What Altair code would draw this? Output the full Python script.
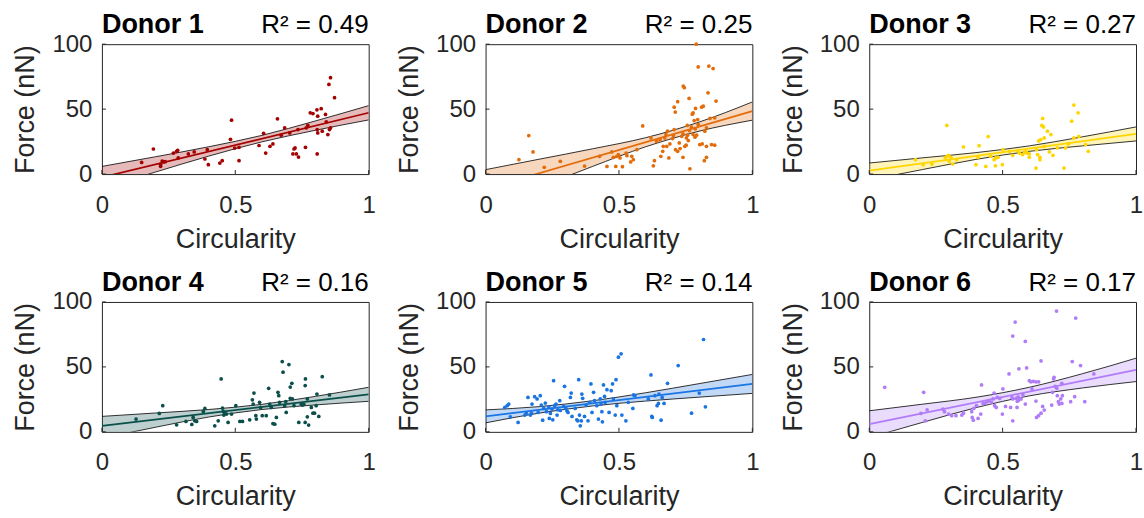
import altair as alt
import pandas as pd

FONT = "Liberation Sans"

donors = ["Donor 1", "Donor 2", "Donor 3", "Donor 4", "Donor 5", "Donor 6"]
r2_values = [0.49, 0.25, 0.27, 0.16, 0.14, 0.17]
colors = ["#A30000", "#E36C0A", "#FFD500", "#0B4F4B", "#1A74E2", "#B07CF8"]

x_ticks = [0, 0.5, 1]
y_ticks = [0, 50, 100]

# ---- scatter data (circularity, force) ----
d1_circ = [0.149, 0.193, 0.22, 0.22, 0.226, 0.232, 0.237, 0.268, 0.28, 0.284, 0.286, 0.324, 0.346, 0.386, 0.395,
           0.399, 0.442, 0.451, 0.482, 0.486, 0.498, 0.514, 0.514, 0.589, 0.606, 0.614, 0.63, 0.641, 0.658, 0.672,
           0.685, 0.704, 0.716, 0.72, 0.724, 0.729, 0.737, 0.735, 0.763, 0.766, 0.772, 0.781, 0.791, 0.807, 0.806,
           0.822, 0.809, 0.807, 0.809, 0.826, 0.838, 0.841, 0.847, 0.851, 0.857, 0.853, 0.857, 0.872]
d1_force = [9.0, 19.3, 6.0, 7.5, 10.0, 9.3, 9.5, 16.2, 17.5, 18.3, 12.4, 15.5, 17.0, 11.6, 18.8,
            7.2, 8.5, 10.3, 26.8, 41.5, 20.0, 20.6, 10.3, 22.0, 31.4, 16.2, 21.4, 23.2, 42.5, 29.9,
            35.6, 31.7, 15.5, 19.3, 20.1, 15.5, 13.1, 34.3, 20.6, 35.6, 37.4, 47.2, 46.6, 15.5, 49.5,
            50.3, 44.6, 34.3, 31.7, 33.0, 45.9, 40.2, 30.4, 69.0, 74.2, 34.3, 35.6, 58.8]

d2_circ = [0.125, 0.162, 0.178, 0.22, 0.28, 0.371, 0.427, 0.455, 0.488, 0.513, 0.473, 0.479, 0.492, 0.498, 0.504,
           0.527, 0.53, 0.544, 0.548, 0.554, 0.567, 0.589, 0.62, 0.629, 0.633, 0.641, 0.654, 0.657, 0.664, 0.666,
           0.672, 0.676, 0.682, 0.687, 0.691, 0.701, 0.704, 0.707, 0.711, 0.72, 0.712, 0.72, 0.729, 0.726, 0.735,
           0.74, 0.741, 0.745, 0.747, 0.752, 0.756, 0.753, 0.757, 0.76, 0.766, 0.763, 0.772, 0.775, 0.778, 0.787,
           0.778, 0.785, 0.791, 0.782, 0.79, 0.795, 0.797, 0.797, 0.803, 0.81, 0.816, 0.812, 0.828, 0.82, 0.822,
           0.828, 0.828, 0.834, 0.837, 0.841, 0.847, 0.853, 0.859, 0.859, 0.864, 0.74, 0.764, 0.786, 0.707, 0.679]
d2_force = [11.1, 29.6, 17.0, 5.2, 9.8, 6.2, 13.7, 5.9, 5.9, 5.7, 17.0, 12.9, 13.7, 14.9, 12.4,
            16.2, 14.2, 9.3, 13.7, 11.1, 18.8, 37.1, 27.8, 6.4, 10.3, 25.3, 26.5, 13.7, 17.5, 21.4,
            27.8, 30.4, 33.0, 12.4, 23.2, 27.3, 29.6, 51.5, 47.7, 55.7, 18.8, 17.5, 19.6, 24.0, 29.1,
            12.9, 67.8, 66.5, 21.4, 22.2, 37.4, 27.8, 29.9, 25.8, 4.1, 58.2, 36.1, 46.1, 47.2, 50.5,
            30.4, 28.4, 29.9, 41.2, 100.0, 42.0, 38.1, 82.5, 22.7, 51.5, 52.3, 23.2, 21.4, 10.3, 33.0,
            35.6, 12.9, 62.6, 83.2, 42.8, 22.7, 81.2, 43.3, 22.2, 56.2, 31.0, 33.5, 34.8, 34.3, 21.4]

d3_circ = [0.173, 0.202, 0.235, 0.285, 0.291, 0.297, 0.3, 0.306, 0.291, 0.313, 0.328, 0.353, 0.4, 0.408, 0.412,
           0.437, 0.446, 0.455, 0.468, 0.474, 0.483, 0.473, 0.499, 0.501, 0.526, 0.538, 0.557, 0.563, 0.575, 0.582,
           0.588, 0.594, 0.6, 0.6, 0.625, 0.627, 0.631, 0.635, 0.64, 0.64, 0.643, 0.65, 0.647, 0.653, 0.656,
           0.656, 0.668, 0.675, 0.681, 0.689, 0.705, 0.73, 0.736, 0.746, 0.759, 0.767, 0.783, 0.767, 0.786, 0.811,
           0.821]
d3_force = [11.1, 7.2, 7.7, 12.4, 13.7, 14.4, 9.8, 12.9, 37.4, 7.7, 11.1, 20.9, 7.2, 12.9, 21.9,
            5.9, 28.9, 13.7, 11.1, 12.4, 12.9, 6.4, 7.2, 18.8, 17.5, 14.4, 18.0, 16.2, 15.0, 16.5,
            17.5, 16.0, 15.5, 12.9, 4.6, 18.8, 15.0, 25.5, 12.9, 11.1, 26.5, 42.8, 37.4, 36.3, 27.8,
            21.4, 33.0, 17.0, 30.4, 14.4, 20.1, 4.6, 20.1, 23.2, 40.7, 53.1, 47.2, 27.8, 29.1, 22.7,
            17.5]

d4_circ = [0.128, 0.215, 0.228, 0.28, 0.315, 0.337, 0.342, 0.348, 0.355, 0.38, 0.386, 0.423, 0.436, 0.447, 0.452,
           0.455, 0.457, 0.461, 0.467, 0.473, 0.486, 0.502, 0.517, 0.527, 0.554, 0.564, 0.567, 0.57, 0.577, 0.579,
           0.591, 0.595, 0.601, 0.616, 0.625, 0.629, 0.635, 0.641, 0.648, 0.654, 0.66, 0.663, 0.666, 0.676, 0.679,
           0.685, 0.689, 0.691, 0.701, 0.706, 0.712, 0.706, 0.714, 0.72, 0.738, 0.747, 0.751, 0.757, 0.762, 0.763,
           0.762, 0.77, 0.775, 0.77, 0.785, 0.791, 0.797, 0.803, 0.806, 0.813, 0.826, 0.853]
d4_force = [9.8, 14.2, 20.1, 5.4, 8.0, 5.7, 11.1, 8.5, 8.0, 15.7, 18.0, 4.6, 8.5, 40.7, 18.3,
            15.7, 12.9, 14.4, 13.7, 7.2, 13.7, 20.1, 8.0, 8.0, 9.3, 24.7, 21.4, 29.9, 12.4, 9.8,
            22.7, 18.8, 12.4, 12.4, 33.5, 21.4, 18.8, 6.4, 5.9, 11.1, 30.4, 27.8, 22.7, 54.1, 45.9,
            20.1, 23.2, 14.9, 51.8, 34.5, 37.4, 25.8, 25.3, 20.1, 7.2, 21.4, 20.6, 21.1, 35.6, 40.7,
            7.2, 11.6, 5.2, 25.3, 18.8, 14.4, 14.4, 20.1, 29.1, 11.9, 42.5, 28.4]

d5_circ = [0.072, 0.081, 0.087, 0.093, 0.122, 0.147, 0.153, 0.159, 0.168, 0.172, 0.174, 0.184, 0.193, 0.197, 0.205,
           0.209, 0.214, 0.218, 0.224, 0.228, 0.237, 0.239, 0.243, 0.249, 0.252, 0.255, 0.259, 0.264, 0.268, 0.271,
           0.278, 0.28, 0.293, 0.296, 0.301, 0.305, 0.309, 0.318, 0.321, 0.324, 0.336, 0.342, 0.346, 0.349, 0.352,
           0.355, 0.359, 0.361, 0.364, 0.371, 0.377, 0.384, 0.39, 0.395, 0.399, 0.405, 0.408, 0.417, 0.423, 0.43,
           0.433, 0.436, 0.438, 0.442, 0.446, 0.448, 0.455, 0.463, 0.471, 0.476, 0.479, 0.486, 0.489, 0.492, 0.498,
           0.508, 0.511, 0.526, 0.535, 0.552, 0.555, 0.56, 0.61, 0.62, 0.623, 0.625, 0.635, 0.643, 0.648, 0.65,
           0.658, 0.662, 0.669, 0.682, 0.722, 0.772, 0.801, 0.817, 0.824]
d5_force = [18.8, 20.1, 21.4, 11.6, 7.2, 12.9, 14.4, 26.5, 12.9, 14.4, 21.4, 27.1, 25.3, 14.9, 27.8,
            20.6, 9.0, 18.0, 22.2, 15.5, 19.3, 10.3, 14.2, 17.5, 9.3, 39.4, 20.1, 21.4, 12.9, 17.0,
            24.0, 16.5, 19.6, 35.1, 18.0, 16.2, 14.9, 26.5, 29.9, 11.9, 18.0, 9.3, 8.5, 40.2, 12.9,
            4.6, 8.5, 29.1, 25.8, 11.9, 20.6, 8.5, 22.7, 36.9, 14.9, 30.4, 24.0, 20.1, 9.8, 25.3,
            21.4, 15.5, 7.7, 36.1, 27.3, 22.7, 32.5, 14.9, 31.7, 36.9, 25.3, 12.9, 40.2, 20.1, 57.5,
            60.1, 12.9, 8.5, 22.7, 18.0, 28.4, 27.8, 25.3, 43.8, 11.9, 11.1, 27.8, 20.1, 21.9, 29.1,
            9.0, 26.5, 21.9, 37.4, 51.0, 14.4, 29.9, 71.1, 19.3]

d6_circ = [0.058, 0.194, 0.204, 0.21, 0.217, 0.276, 0.282, 0.297, 0.309, 0.325, 0.347, 0.353, 0.384, 0.386, 0.39,
           0.392, 0.402, 0.408, 0.418, 0.421, 0.427, 0.433, 0.442, 0.449, 0.458, 0.464, 0.468, 0.47, 0.476, 0.48,
           0.489, 0.499, 0.501, 0.511, 0.524, 0.53, 0.535, 0.538, 0.538, 0.538, 0.547, 0.551, 0.555, 0.558, 0.561,
           0.554, 0.561, 0.569, 0.576, 0.585, 0.585, 0.59, 0.6, 0.606, 0.615, 0.625, 0.635, 0.61, 0.625, 0.627,
           0.635, 0.644, 0.644, 0.65, 0.656, 0.684, 0.687, 0.691, 0.693, 0.697, 0.702, 0.703, 0.705, 0.709, 0.712,
           0.718, 0.722, 0.724, 0.722, 0.755, 0.761, 0.77, 0.774, 0.792, 0.808, 0.842]
d6_force = [34.3, 14.2, 30.4, 8.5, 17.0, 17.5, 15.5, 13.7, 12.4, 12.4, 12.9, 14.4, 15.5, 11.1, 9.0,
            18.0, 20.1, 10.3, 13.7, 36.1, 21.9, 21.9, 23.2, 24.0, 22.7, 25.3, 29.9, 20.1, 18.8, 26.5,
            25.8, 13.7, 33.0, 19.6, 44.6, 18.8, 26.5, 25.3, 8.5, 73.7, 84.5, 25.8, 23.5, 26.9, 24.5,
            18.8, 48.5, 25.3, 28.4, 69.6, 21.4, 49.2, 39.4, 38.5, 38.8, 38.5, 38.5, 33.0, 23.7, 11.1,
            12.4, 54.6, 14.4, 19.6, 16.8, 20.6, 30.4, 40.7, 42.0, 35.1, 93.0, 33.5, 27.8, 23.2, 21.4,
            25.3, 21.9, 27.8, 37.4, 23.2, 54.1, 27.1, 87.6, 51.0, 23.2, 44.6]

# ---- fitted lines (at circularity 0 and 1) ----
fit_x = [0, 1]
d1_fit = [-2.5, 47.2]
d2_fit = [-11.4, 48.5]
d3_fit = [2.6, 30.9]
d4_fit = [4.6, 28.9]
d5_fit = [11.9, 36.9]
d6_fit = [5.9, 47.7]

# ---- confidence band bounds read at these circularities ----
band_x = [0, 0.2, 0.4, 0.6, 0.8, 1.0]
d1_upper = [5.9, 13.3, 21.0, 29.8, 40.9, 52.7]
d1_lower = [-10.9, 1.5, 13.8, 24.8, 33.7, 41.7]
d2_upper = [3.4, 11.4, 19.4, 28.0, 40.0, 55.5]
d2_lower = [-26.2, -10.2, 5.8, 21.0, 33.0, 41.5]
d3_upper = [8.5, 12.5, 16.5, 21.7, 28.7, 36.3]
d3_lower = [-4.5, 3.5, 11.3, 17.5, 21.7, 25.5]
d4_upper = [11.9, 14.5, 17.2, 21.2, 27.3, 34.3]
d4_lower = [-5.0, 3.5, 11.4, 17.2, 20.7, 23.5]
d5_upper = [16.9, 19.4, 23.9, 30.1, 37.1, 44.2]
d5_lower = [6.9, 14.4, 19.9, 23.7, 26.7, 29.6]
d6_upper = [16.2, 21.3, 26.6, 34.3, 44.8, 56.7]
d6_lower = [-4.4, 7.3, 18.6, 27.7, 33.8, 38.7]

circs = [d1_circ, d2_circ, d3_circ, d4_circ, d5_circ, d6_circ]
forces = [d1_force, d2_force, d3_force, d4_force, d5_force, d6_force]
fits = [d1_fit, d2_fit, d3_fit, d4_fit, d5_fit, d6_fit]
uppers = [d1_upper, d2_upper, d3_upper, d4_upper, d5_upper, d6_upper]
lowers = [d1_lower, d2_lower, d3_lower, d4_lower, d5_lower, d6_lower]

W, H = 267, 130
TXT = "#262626"

xscale = alt.Scale(domain=[0, 1], nice=False, zero=False)
yscale = alt.Scale(domain=[0, 100], nice=False, zero=False)
xaxis = alt.Axis(values=x_ticks, format="~g", labelPadding=19, titlePadding=9, labelFlush=False)
yaxis = alt.Axis(values=y_ticks, labelPadding=10, titlePadding=12, labelFlush=False)


def xe(field):
    return alt.X(f"{field}:Q", scale=xscale, axis=xaxis, title="Circularity")


def ye(field):
    return alt.Y(f"{field}:Q", scale=yscale, axis=yaxis, title="Force (nN)")


def panel(i):
    c = colors[i]
    pts = pd.DataFrame({"x": circs[i], "y": forces[i]})
    band = pd.DataFrame({"x": band_x, "lo": lowers[i], "hi": uppers[i]})
    fit = pd.DataFrame({"x": fit_x, "y": fits[i]})
    xt = pd.DataFrame({"x": x_ticks})
    yt = pd.DataFrame({"y": y_ticks})
    lab = pd.DataFrame({"name": [donors[i]], "r2": [f"R\u00b2 = {r2_values[i]:.2f}"]})

    area = alt.Chart(band).mark_area(clip=True, color=c, opacity=0.27, interpolate="monotone").encode(
        x=xe("x"), y=ye("lo"), y2="hi:Q")
    up = alt.Chart(band).mark_line(clip=True, color="#000000", strokeWidth=0.8, interpolate="monotone").encode(
        x=xe("x"), y=ye("hi"))
    lo = alt.Chart(band).mark_line(clip=True, color="#000000", strokeWidth=0.8, interpolate="monotone").encode(
        x=xe("x"), y=ye("lo"))
    fl = alt.Chart(fit).mark_line(clip=True, color=c, strokeWidth=1.7).encode(x=xe("x"), y=ye("y"))
    dots = alt.Chart(pts).mark_circle(size=14, color=c, opacity=1).encode(x=xe("x"), y=ye("y"))
    xticks = alt.Chart(xt).mark_rule(color=TXT, strokeWidth=1).encode(
        x=xe("x"), y=alt.value(H), y2=alt.value(H - 4))
    yticks = alt.Chart(yt).mark_rule(color=TXT, strokeWidth=1).encode(
        y=ye("y"), x=alt.value(0), x2=alt.value(4))
    name = alt.Chart(lab).mark_text(align="left", baseline="alphabetic", font=FONT, fontSize=27,
                                    fontWeight="bold", color="#000000").encode(
        text="name:N", x=alt.value(0), y=alt.value(-11))
    r2 = alt.Chart(lab).mark_text(align="right", baseline="alphabetic", font=FONT, fontSize=26,
                                  color="#000000").encode(
        text="r2:N", x=alt.value(W), y=alt.value(-11))
    return alt.layer(area, up, lo, fl, dots, xticks, yticks, name, r2).properties(width=W, height=H)


panels = [panel(i) for i in range(6)]

chart = alt.concat(*panels, columns=3, spacing={"row": 128, "column": 117}, bounds="flush").properties(
    padding={"left": 11, "top": 10, "right": 0, "bottom": 0}
).configure_view(stroke=TXT, strokeWidth=1).configure_axis(
    grid=False, domain=False, ticks=False, labelFont=FONT, titleFont=FONT, labelFontSize=24,
    titleFontSize=27, labelColor=TXT, titleColor=TXT, titleFontWeight="normal"
)

chart.save("out.html", embed_options={"renderer": "svg", "actions": False})
